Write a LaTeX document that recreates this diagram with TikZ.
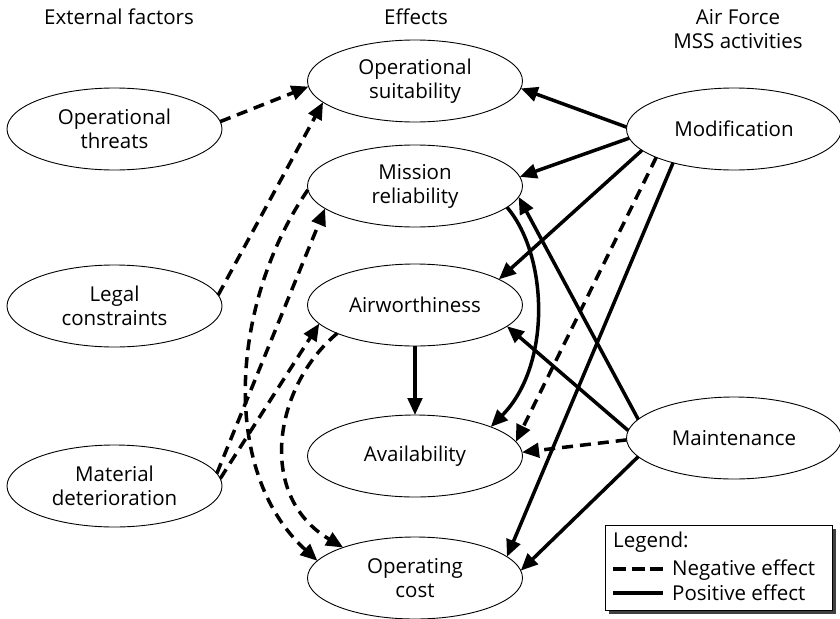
\documentclass[tikz,border=0pt]{standalone}
\usepackage{fontspec}
\setmainfont{Open Sans}
\usetikzlibrary{shapes.geometric,arrows.meta}

\begin{document}
\begin{tikzpicture}[x=1pt,y=-1pt,
  font=\fontsize{20.5}{24}\selectfont,
  oval/.style={ellipse,draw,line width=0.9pt,minimum width=215pt,minimum height=82pt,
    inner sep=0pt,outer sep=0pt,align=center},
  link/.style={line width=3.5pt,-{Triangle[length=17pt,width=14.5pt]}},
  neglink/.style={link,dash pattern=on 11pt off 7pt},
  poslink/.style={link},
  header/.style={align=center,inner sep=0pt},
]
\useasboundingbox (0,0) rectangle (840,618);

% column headers
\node[header] (hext) at (119,17) {External factors};
\node[header] (heff) at (416,17) {Effects};
\node[header] (hmss) at (738,29) {Air Force\\MSS activities};

% effects
\node[oval] (os) at (415,81) {Operational\\suitability};
\node[oval] (mr) at (415,186) {Mission\\reliability};
\node[oval] (aw) at (415,305) {Airworthiness};
\node[oval] (av) at (415,456) {Availability};
\node[oval] (oc) at (415,578) {Operating\\cost};

% external factors
\node[oval] (thr) at (114.5,129) {Operational\\threats};
\node[oval] (leg) at (114.5,306) {Legal\\constraints};
\node[oval] (mat) at (114.5,486) {Material\\deterioration};

% MSS activities
\node[oval] (mod) at (734,129) {Modification};
\node[oval] (mnt) at (734,438) {Maintenance};

% external factors -> effects
\draw[neglink] (thr.4) -- (os.183);
\draw[neglink] (leg.6) -- (os.193);
\draw[neglink] (mat.7) -- (mr.194);
\draw[neglink] (mat.4) -- (aw.191);

% effects -> effects
\draw[neglink] (mr.182) .. controls (232,300) and (218,470) .. (oc.170);
\draw[neglink] (aw.200) .. controls (275,385) and (255,495) .. (oc.157);
\draw[poslink] (aw.south) -- (av.north);
\draw[poslink] (mr.-13) .. controls (548,255) and (552,365) .. (av.21);

% modification -> effects
\draw[poslink] (mod.179) -- (os.-4);
\draw[poslink] (mod.185) -- (mr.5);
\draw[poslink] (mod.193) -- (aw.17);
\draw[neglink] (mod.200) -- (av.8);
\draw[poslink] (mod.209) -- (oc.13);

% maintenance -> effects
\draw[poslink] (mnt.169) -- (mr.-6);
\draw[poslink] (mnt.176) -- (aw.-13);
\draw[neglink] (mnt.181) -- (av.2);
\draw[poslink] (mnt.191) -- (oc.4);

% legend
\fill[black!75] (609,529) rectangle (836,614);
\draw[fill=white,line width=0.9pt] (605,525) rectangle (832,610);
\node[anchor=base west,inner sep=0pt] (lgt) at (613,547) {Legend:};
\coordinate (nA) at (613,569);
\coordinate (nB) at (663,569);
\coordinate (pA) at (613,593);
\coordinate (pB) at (663,593);
\draw[line width=3.5pt,dash pattern=on 13pt off 5.5pt] (nA) -- (nB);
\draw[line width=3.5pt] (pA) -- (pB);
\node[anchor=base west,inner sep=0pt] (lgn) at (672,575) {Negative effect};
\node[anchor=base west,inner sep=0pt] (lgp) at (672,600) {Positive effect};
\end{tikzpicture}
\end{document}
